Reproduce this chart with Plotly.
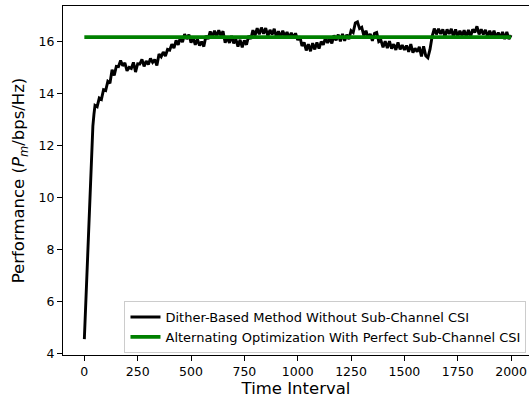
import plotly.graph_objects as go

# ---------------- data ----------------
time_early = [0, 5, 10, 15, 20, 25, 30, 35, 40, 45]
perf_early = [4.56, 5.6, 6.65, 7.7, 8.7, 9.75, 10.8, 11.9, 12.75, 13.2]

# values for t = 50, 60, ..., 2000 (one row per 100 intervals)
time_main = list(range(50, 2001, 10))
perf_main = [
    13.55, 13.5, 13.83, 13.78, 14.15, 14.12, 14.47, 14.4, 14.92, 14.7,
    15.05, 15.04, 15.27, 15.07, 15.18, 14.88, 15.01, 14.97, 15.2, 14.83,
    15.15, 15.14, 15.32, 15.05, 15.25, 15.12, 15.35, 15.2, 15.31, 15.08,
    15.52, 15.42, 15.6, 15.45, 15.7, 15.67, 15.9, 15.75, 16.05, 15.88,
    16.15, 15.98, 16.29, 16.1, 16.27, 15.96, 16.15, 15.88, 16.09, 15.85,
    16.0, 15.81, 16.22, 16.1, 16.39, 16.18, 16.42, 16.2, 16.44, 16.23,
    16.4, 15.96, 16.17, 15.95, 16.22, 15.93, 16.1, 15.81, 16.07, 15.78,
    16.05, 15.88, 16.22, 16.1, 16.44, 16.23, 16.52, 16.28, 16.54, 16.3,
    16.52, 16.21, 16.45, 16.28, 16.49, 16.18, 16.4, 16.16, 16.42, 16.2,
    16.37, 16.13, 16.34, 16.15, 16.32, 16.06, 16.2, 15.83, 15.97, 15.66,
    15.9, 15.63, 15.94, 15.7, 15.97, 15.73, 16.0, 15.88, 16.14, 15.95,
    16.12, 15.93, 16.24, 16.05, 16.27, 16.01, 16.3, 16.03, 16.27, 16.1,
    16.42, 16.35, 16.72, 16.76, 16.5, 16.55, 16.23, 16.42, 16.13, 16.3,
    16.03, 16.32, 16.35, 16.0, 16.05, 15.78, 16.02, 15.75, 16.02, 15.73,
    15.9, 15.68, 15.97, 15.7, 15.87, 15.68, 15.85, 15.61, 15.9, 15.58,
    15.74, 15.61, 15.8, 15.43, 15.82, 15.46, 15.38, 15.7, 16.2, 16.5,
    16.28, 16.49, 16.3, 16.47, 16.18, 16.47, 16.3, 16.49, 16.18, 16.47,
    16.2, 16.42, 16.23, 16.44, 16.18, 16.45, 16.18, 16.47, 16.35, 16.59,
    16.28, 16.47, 16.28, 16.45, 16.18, 16.42, 16.2, 16.42, 16.13, 16.35,
    16.13, 16.37, 16.1, 16.37, 16.1, 16.25,
]

ao_time = [0, 2000]
ao_perf = [16.17, 16.17]

x_ticks = [0, 250, 500, 750, 1000, 1250, 1500, 1750, 2000]
y_ticks = [4, 6, 8, 10, 12, 14, 16]

series_names = [
    "Dither-Based Method Without Sub-Channel CSI",
    "Alternating Optimization With Perfect Sub-Channel CSI",
]

# ---------------- figure ----------------
FONT = "DejaVu Sans"

fig = go.Figure()
fig.add_trace(go.Scatter(
    x=time_early + time_main, y=perf_early + perf_main,
    mode="lines", name=series_names[0],
    line=dict(color="black", width=2.9),
))
fig.add_trace(go.Scatter(
    x=ao_time, y=ao_perf,
    mode="lines", name=series_names[1],
    line=dict(color="#008000", width=3.8),
))

axis_common = dict(
    showgrid=False, zeroline=False,
    showline=True, linecolor="black", linewidth=1,
    ticks="outside", ticklen=5, tickwidth=1, tickcolor="black",
    tickfont=dict(family=FONT, size=12.5, color="black"),
)

fig.update_layout(
    width=529, height=398,
    margin=dict(l=63, r=0, t=6, b=43),
    paper_bgcolor="white", plot_bgcolor="white",
    font=dict(family=FONT, color="black"),
    xaxis=dict(
        range=[-100, 2084], tickvals=x_ticks, mirror=True,
        title=dict(text="Time Interval", font=dict(family=FONT, size=16.5, color="black"), standoff=5),
        **axis_common,
    ),
    yaxis=dict(
        range=[3.95, 17.37], tickvals=y_ticks,
        title=dict(text="Performance (<i>P</i><sub><i>m</i></sub>/bps/Hz)",
                   font=dict(family=FONT, size=16.5, color="black"), standoff=9),
        **axis_common,
    ),
    legend=dict(
        x=0.9946, y=0.0057, xanchor="right", yanchor="bottom",
        bgcolor="rgba(255,255,255,0.8)", bordercolor="#cccccc", borderwidth=1,
        font=dict(family=FONT, size=13, color="black"),
        tracegroupgap=0, itemwidth=30,
    ),
)

fig.write_html(
    "out.html",
    config={"displayModeBar": False},
    post_script="document.body.style.margin='0px';document.body.style.padding='0px';",
)
